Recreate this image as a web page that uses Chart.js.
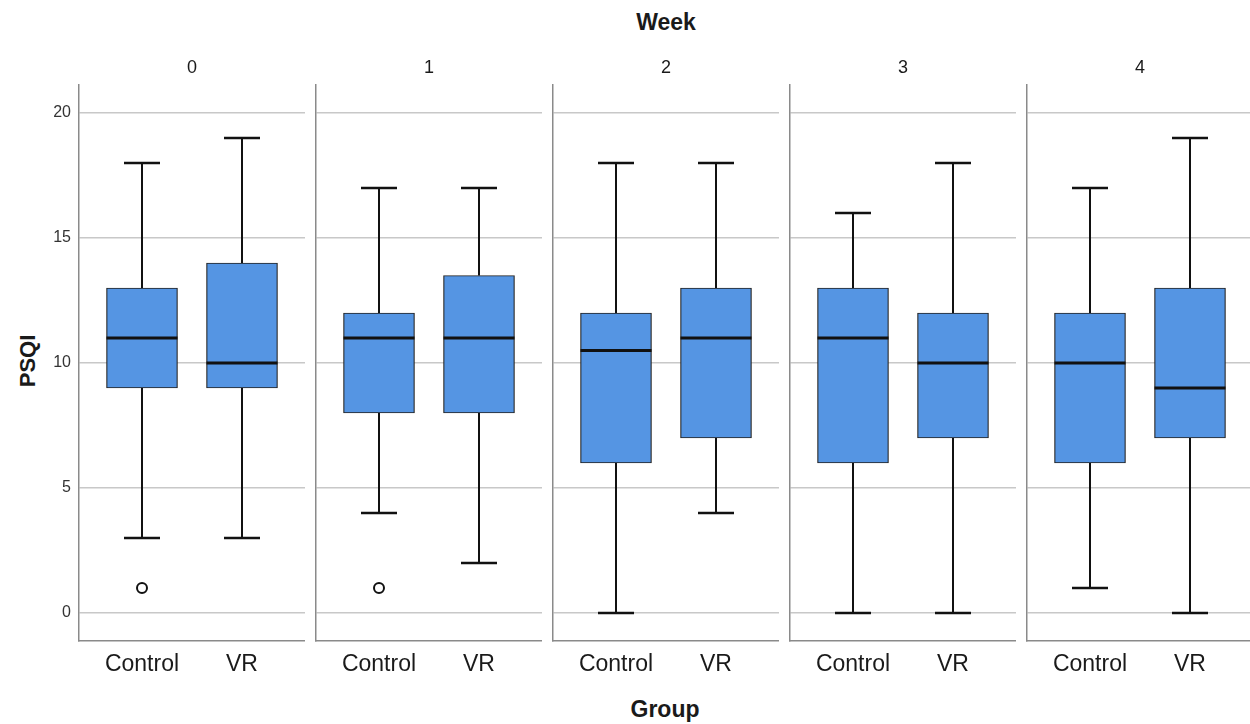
<!DOCTYPE html>
<html>
<head>
<meta charset="utf-8">
<script src="https://cdn.jsdelivr.net/npm/chart.js@4.4.0/dist/chart.umd.min.js"></script>
<style>
    body { margin: 0; width: 1250px; height: 724px; overflow: hidden; background: #fff; position: relative;
           font-family: "Liberation Sans", Arial, sans-serif; color: #1a1a1a; }
    .panel { position: absolute; top: 0; width: 305px; height: 724px; }
    .lbl { position: absolute; font-weight: bold; font-size: 23px; line-height: 24px; text-align: center; }
</style>
</head>
<body>
<div class="lbl" style="left:566px; width:200px; top:10px;">Week</div>
<div class="lbl" style="left:565px; width:200px; top:697px;">Group</div>
<div class="lbl" style="left:-72px; width:200px; top:349px; font-size:22px; transform:rotate(-90deg);">PSQI</div>

<script>
// --- dati (PSQI per settimana e gruppo) ---
const weeks = ["0", "1", "2", "3", "4"];
const groups = ["Control", "VR"];
const yTicks = [0, 5, 10, 15, 20];

// ogni riga = una settimana, [Control, VR]
const whiskerLow = [[3, 3], [4, 2], [0, 4], [0, 0], [1, 0]];
const q1 = [[9, 9], [8, 8], [6, 7], [6, 7], [6, 7]];
const median = [[11, 10], [11, 11], [10.5, 11], [11, 10], [10, 9]];
const q3 = [[13, 14], [12, 13.5], [12, 13], [13, 12], [12, 13]];
const whiskerHigh = [[18, 19], [17, 17], [18, 18], [16, 18], [17, 19]];
const outliers = [[[1], []], [[1], []], [[], []], [[], []], [[], []]];

const font = "'Liberation Sans', Arial, sans-serif";

// baffi, cappucci e mediana disegnati con le scale del grafico
const boxWhiskers = {
    id: "boxWhiskers",
    afterDatasetsDraw(chart) {
        const w = chart.options.plugins.boxWhiskers.week;
        const x = chart.scales.x;
        const y = chart.scales.y;
        const ctx = chart.ctx;
        ctx.save();
        ctx.strokeStyle = "#111";
        ctx.lineCap = "butt";
        groups.forEach((g, i) => {
            const cx = x.getPixelForValue(i);
            const capL = x.getPixelForValue(i - 0.18);
            const capR = x.getPixelForValue(i + 0.18);
            const boxL = x.getPixelForValue(i - 0.355);
            const boxR = x.getPixelForValue(i + 0.355);
            const seg = (x1, y1, x2, y2, lw) => {
                ctx.lineWidth = lw;
                ctx.beginPath();
                ctx.moveTo(x1, y1);
                ctx.lineTo(x2, y2);
                ctx.stroke();
            };
            seg(cx, y.getPixelForValue(whiskerLow[w][i]), cx, y.getPixelForValue(q1[w][i]), 2);
            seg(cx, y.getPixelForValue(q3[w][i]), cx, y.getPixelForValue(whiskerHigh[w][i]), 2);
            seg(capL, y.getPixelForValue(whiskerLow[w][i]), capR, y.getPixelForValue(whiskerLow[w][i]), 2.5);
            seg(capL, y.getPixelForValue(whiskerHigh[w][i]), capR, y.getPixelForValue(whiskerHigh[w][i]), 2.5);
            seg(boxL, y.getPixelForValue(median[w][i]), boxR, y.getPixelForValue(median[w][i]), 3);
        });
        ctx.restore();
    },
};

weeks.forEach((wk, w) => {
    const div = document.createElement("div");
    div.className = "panel";
    div.style.left = (w * 237) + "px";
    const canvas = document.createElement("canvas");
    div.appendChild(canvas);
    document.body.appendChild(div);

    const outlierPts = [];
    groups.forEach((g, i) => outliers[w][i].forEach((v) => outlierPts.push({ x: i, y: v })));

    new Chart(canvas.getContext("2d"), {
        type: "bar",
        data: {
            datasets: [
                {
                    type: "scatter",
                    data: outlierPts,
                    pointStyle: "circle",
                    radius: 5,
                    borderWidth: 2,
                    borderColor: "#111",
                    backgroundColor: "#fff",
                },
                {
                    data: groups.map((g, i) => ({ x: i, y: [q1[w][i], q3[w][i]] })),
                    backgroundColor: "#5595e3",
                    borderColor: "#222",
                    borderWidth: 1.2,
                    borderSkipped: false,
                    barThickness: 71,
                },
            ],
        },
        options: {
            responsive: true,
            maintainAspectRatio: false,
            animation: false,
            layout: { autoPadding: false, padding: 0 },
            plugins: {
                legend: { display: false },
                tooltip: { enabled: false },
                title: {
                    display: true,
                    text: wk,
                    fullSize: false,
                    color: "#1a1a1a",
                    font: { size: 18, family: font, weight: "normal" },
                    padding: { top: 57, bottom: 6.4 },
                },
                boxWhiskers: { week: w },
            },
            scales: {
                x: {
                    type: "linear",
                    min: -0.63,
                    max: 1.63,
                    offset: false,
                    afterBuildTicks: (s) => { s.ticks = groups.map((g, i) => ({ value: i })); },
                    afterFit: (s) => {
                        s.height = 83;
                        s.paddingLeft = 0;
                        s.paddingRight = 0;
                    },
                    ticks: {
                        callback: (v) => groups[v],
                        color: "#1a1a1a",
                        font: { size: 23, family: font },
                        padding: 10,
                        maxRotation: 0,
                    },
                    grid: { display: false, drawTicks: false },
                    border: { display: true, color: "#8a8a8a", width: 1.5 },
                },
                y: {
                    min: -1.12,
                    max: 21.12,
                    afterBuildTicks: (s) => { s.ticks = yTicks.map((v) => ({ value: v })); },
                    afterFit: (s) => { s.width = 79; },
                    ticks: {
                        display: w === 0,
                        color: "#333",
                        font: { size: 16, family: font },
                        padding: 8,
                    },
                    grid: { color: "#c8c8c8", lineWidth: 1.5, drawTicks: false },
                    border: { display: true, color: "#8a8a8a", width: 1.5 },
                },
            },
        },
        plugins: [boxWhiskers],
    });
});
</script>
</body>
</html>
